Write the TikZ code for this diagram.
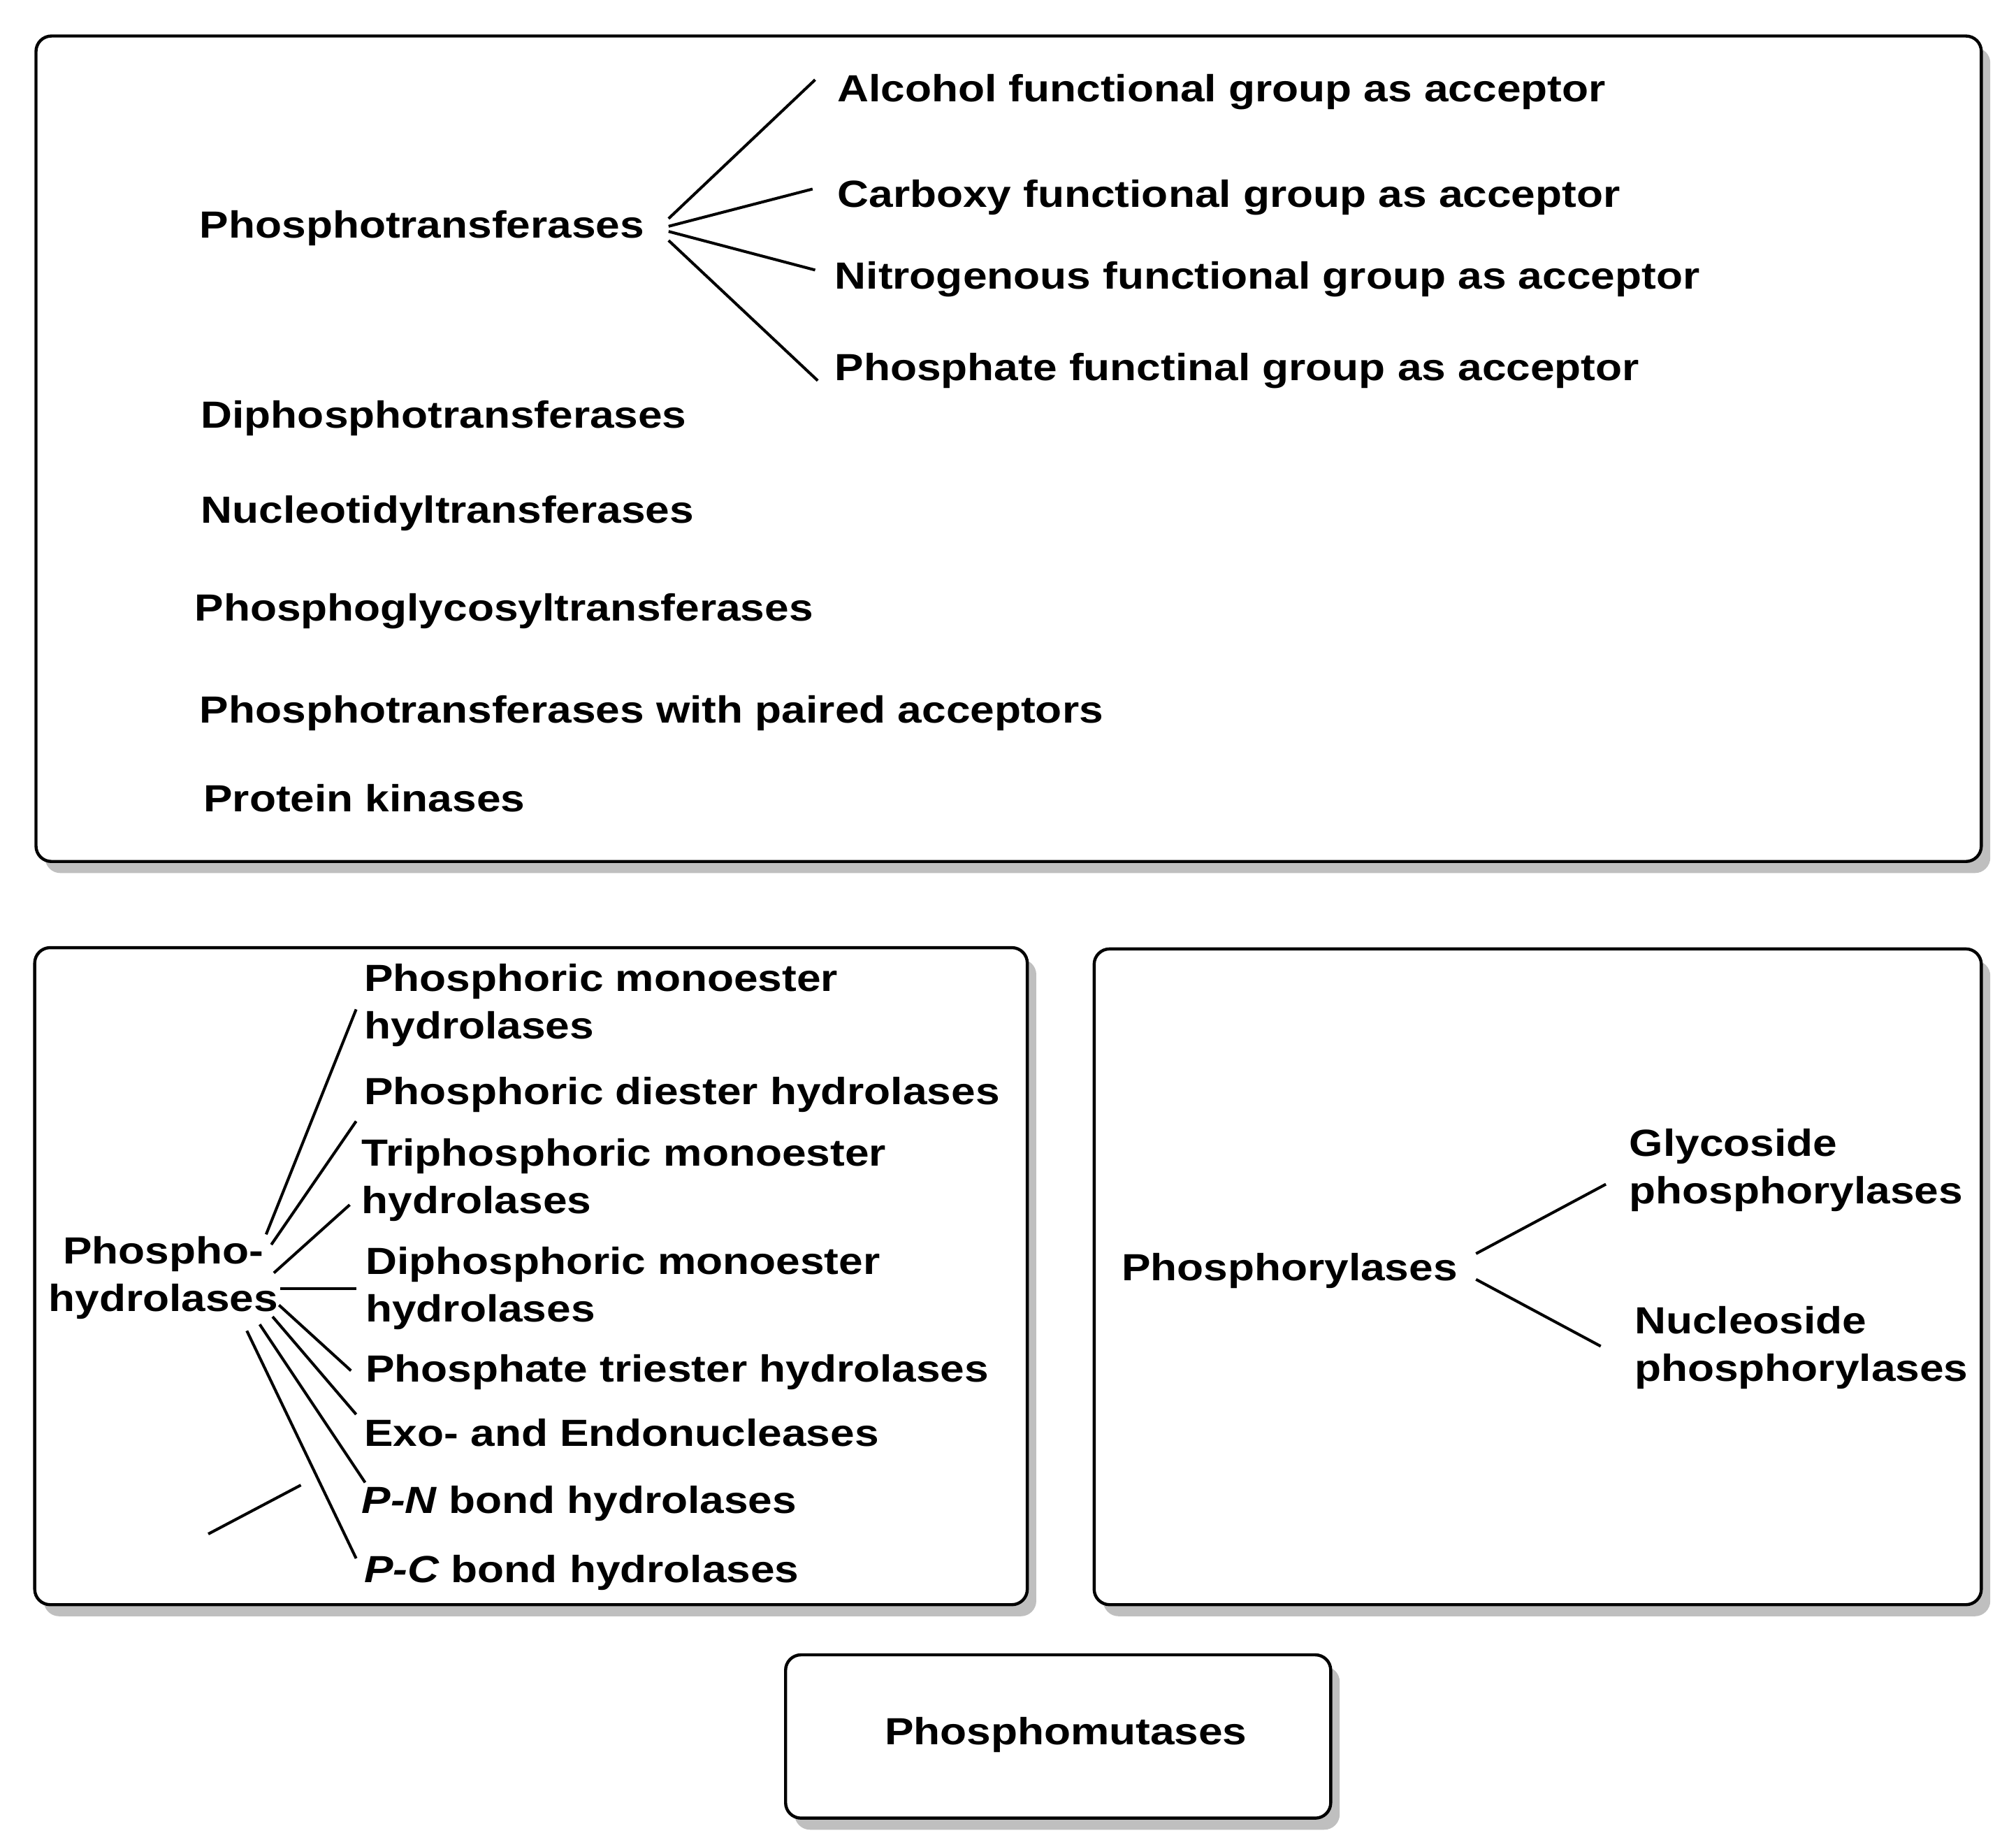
\documentclass[tikz,border=0pt]{standalone}
\usepackage{fontspec}
\setmainfont{Liberation Sans}[FakeStretch=1.15]
\begin{document}
\begin{tikzpicture}[x=0.5pt,y=-0.5pt,
  t/.style={anchor=base west,inner sep=0pt,font=\fontsize{14.7}{17}\selectfont\bfseries},
  box/.style={draw=black,line width=1.2pt,fill=white,rounded corners=6pt},
  shad/.style={fill=black!25,rounded corners=6pt},
  ln/.style={line width=1.1pt}]
\useasboundingbox (0,0) rectangle (1568,1436);
% boxes
\foreach \a/\b/\c/\d in {28/28/1541/670, 27/737/799/1248, 851/738/1541/1248, 611/1287/1035/1414}{
  \fill[shad] (\a+7,\b+9) rectangle (\c+7,\d+9);
  \draw[box] (\a,\b) rectangle (\c,\d);
}
% top box
\node[t] (pt) at (155,185) {Phosphotransferases};
\node[t] (a1) at (651,79) {Alcohol functional group as acceptor};
\node[t] (a2) at (651,161) {Carboxy functional group as acceptor};
\node[t] (a3) at (649,225) {Nitrogenous functional group as acceptor};
\node[t] (a4) at (649,296) {Phosphate functinal group as acceptor};
\node[t] at (156,333) {Diphosphotransferases};
\node[t] at (156,407) {Nucleotidyltransferases};
\node[t] at (151,483) {Phosphoglycosyltransferases};
\node[t] at (155,562) {Phosphotransferases with paired acceptors};
\node[t] at (158,631) {Protein kinases};
\draw[ln] (520,170) -- (634,62);
\draw[ln] (520,176) -- (632,147);
\draw[ln] (520,180) -- (634,210);
\draw[ln] (520,187) -- (636,296);
% lower left
\node[t,anchor=base] at (127,983) {Phospho-};
\node[t,anchor=base] at (127,1020) {hydrolases};
\node[t] at (283,771) {Phosphoric monoester};
\node[t] at (283,808) {hydrolases};
\node[t] at (283,859) {Phosphoric diester hydrolases};
\node[t] at (281,907) {Triphosphoric monoester};
\node[t] at (281,944) {hydrolases};
\node[t] at (284,991) {Diphosphoric monoester};
\node[t] at (284,1028) {hydrolases};
\node[t] at (284,1075) {Phosphate triester hydrolases};
\node[t] at (283,1125) {Exo- and Endonucleases};
\node[t] at (281,1177) {\itshape P-N\upshape\ bond hydrolases};
\node[t] at (283,1231) {\itshape P-C\upshape\ bond hydrolases};
\draw[ln] (207,960) -- (277,785);
\draw[ln] (211,968) -- (277,872);
\draw[ln] (213,990) -- (272,937);
\draw[ln] (218,1002) -- (277,1002);
\draw[ln] (217,1015) -- (273,1066);
\draw[ln] (212,1024) -- (277,1100);
\draw[ln] (202,1030) -- (284,1153);
\draw[ln] (192,1035) -- (277,1212);
\draw[ln] (162,1193) -- (234,1155);
% right
\node[t] at (872,996) {Phosphorylases};
\node[t] at (1267,899) {Glycoside};
\node[t] at (1267,936) {phosphorylases};
\node[t] at (1271,1037) {Nucleoside};
\node[t] at (1271,1074) {phosphorylases};
\draw[ln] (1148,975) -- (1249,921);
\draw[ln] (1148,995) -- (1245,1047);
% bottom
\node[t,anchor=base] at (829,1357) {Phosphomutases};
\end{tikzpicture}
\end{document}
